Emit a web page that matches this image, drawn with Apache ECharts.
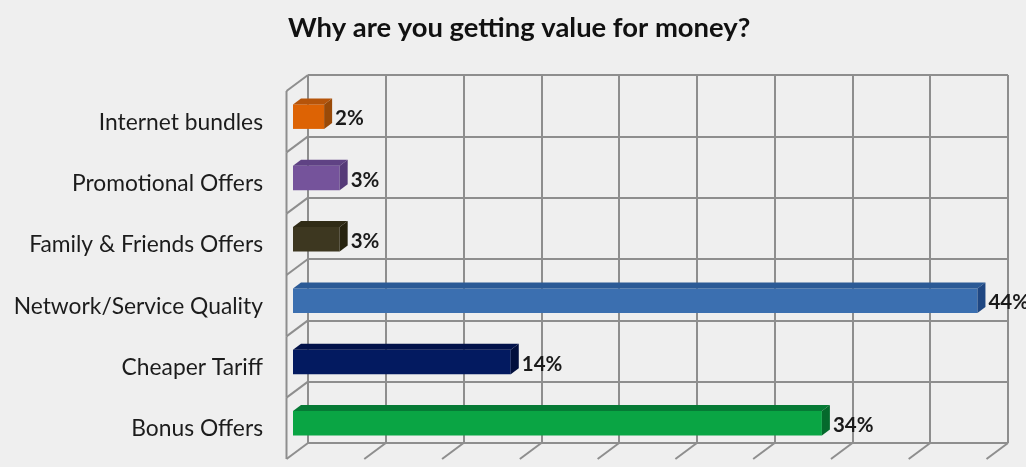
<!DOCTYPE html>
<html>
<head>
<meta charset="utf-8">
<style>html,body{margin:0;padding:0;background:#efefef}#c{width:1026px;height:467px}</style>
<script src="https://cdn.jsdelivr.net/npm/echarts@6/dist/echarts.min.js"></script>
</head>
<body>
<div id="c"></div>
<script>
const categories = ['Internet bundles','Promotional Offers','Family & Friends Offers','Network/Service Quality','Cheaper Tariff','Bonus Offers'];
const values = [2,3,3,44,14,34];
const valueTicks = [0,5,10,15,20,25,30,35,40,45];
const faceColors = ['#dd6304','#75539b','#3d3720','#3b6fb0','#031a60','#0aa544'];
const topColors  = ['#b5540a','#5f4284','#302b16','#2b5a96','#02124a','#067a35'];
const sideColors = ['#9a4a08','#553a78','#27230f','#1f4782','#010e3c','#05692c'];
const gridColor = '#8e8e8e';
const font = 'Lato';

const chart = echarts.init(document.getElementById('c'), null, {renderer:'canvas'});
const barDX = -15, barDY = 11, barH = 24.5, depthX = 8, depthY = 6;
const wallDX = -21.5, wallDY = 16;
const lineStyle = {stroke: gridColor, lineWidth: 2, fill: 'none'};

chart.setOption({
  animation: false,
  backgroundColor: '#efefef',
  title: {
    text: 'Why are you getting value for money?',
    left: 288, top: 15, padding: 0,
    textStyle: {fontFamily: font, fontSize: 27.4, fontWeight: 'bold', color: '#111'}
  },
  grid: {left: 308, right: 18, top: 75, bottom: 24},
  xAxis: {
    type: 'value', min: 0, max: 45, interval: 5,
    axisLabel: {show: false}, axisTick: {show: false}, axisLine: {show: false},
    splitLine: {show: true, lineStyle: {color: gridColor, width: 2}}
  },
  yAxis: {
    type: 'category', data: categories, inverse: true,
    axisTick: {show: false}, axisLine: {show: false},
    axisLabel: {margin: 45, verticalAlign: 'top', padding: [5,0,0,0], fontFamily: font, fontSize: 22.8, color: '#1c1c1c', interval: 0},
    splitLine: {show: true, interval: 0, lineStyle: {color: gridColor, width: 2}}
  },
  series: [
    { // floor ticks running forward from the back wall
      type: 'custom', silent: true, z: 1,
      data: valueTicks,
      encode: {x: 0},
      renderItem(params, api) {
        const v = api.value(0);
        const band = api.size([0,1])[1];
        const p = api.coord([v, categories.length - 1]);
        const y = p[1] + band / 2;
        return {type:'line', shape:{x1:p[0], y1:y, x2:p[0]+wallDX, y2:y+wallDY}, style:lineStyle};
      }
    },
    { // left side wall
      type: 'custom', silent: true, z: 1,
      data: categories.map((c,i)=>i),
      encode: {y: 0},
      renderItem(params, api) {
        const i = api.value(0);
        const band = api.size([0,1])[1];
        const p = api.coord([0, i]);
        const top = p[1] - band / 2, bot = p[1] + band / 2;
        const children = [
          {type:'line', shape:{x1:p[0], y1:top, x2:p[0]+wallDX, y2:top+wallDY}, style:lineStyle},
          {type:'line', shape:{x1:p[0]+wallDX, y1:top+wallDY, x2:p[0]+wallDX, y2:bot+wallDY}, style:lineStyle}
        ];
        return {type:'group', children};
      }
    },
    { // 3-D bars with value labels
      type: 'custom', z: 3,
      data: values.map((v,i)=>[v,i]),
      encode: {x: 0, y: 1},
      renderItem(params, api) {
        const v = api.value(0), i = api.value(1);
        const base = api.coord([0, i]);
        const end = api.coord([v, i]);
        const x0 = base[0] + barDX, x1 = end[0] + barDX;
        const yc = base[1] + barDY;
        const y0 = yc - barH/2, y1 = yc + barH/2;
        const face = {type:'rect', shape:{x:x0, y:y0, width:x1-x0, height:barH},
          style:{fill:faceColors[i]}};
        const top = {type:'polygon', shape:{points:[[x0,y0],[x0+depthX,y0-depthY],[x1+depthX,y0-depthY],[x1,y0]]},
          style:{fill:topColors[i]}};
        const side = {type:'polygon', shape:{points:[[x1,y0],[x1+depthX,y0-depthY],[x1+depthX,y1-depthY],[x1,y1]]},
          style:{fill:sideColors[i]}};
        const label = {type:'text', x:x1+depthX+3, y:yc+2,
          style:{text:v+'%', fontFamily:font, fontWeight:'bold', fontSize:20.5, fill:'#1a1a1a', textVerticalAlign:'middle', textAlign:'left'}};
        return {type:'group', children:[face,top,side,label]};
      }
    }
  ]
});
</script>
</body>
</html>
